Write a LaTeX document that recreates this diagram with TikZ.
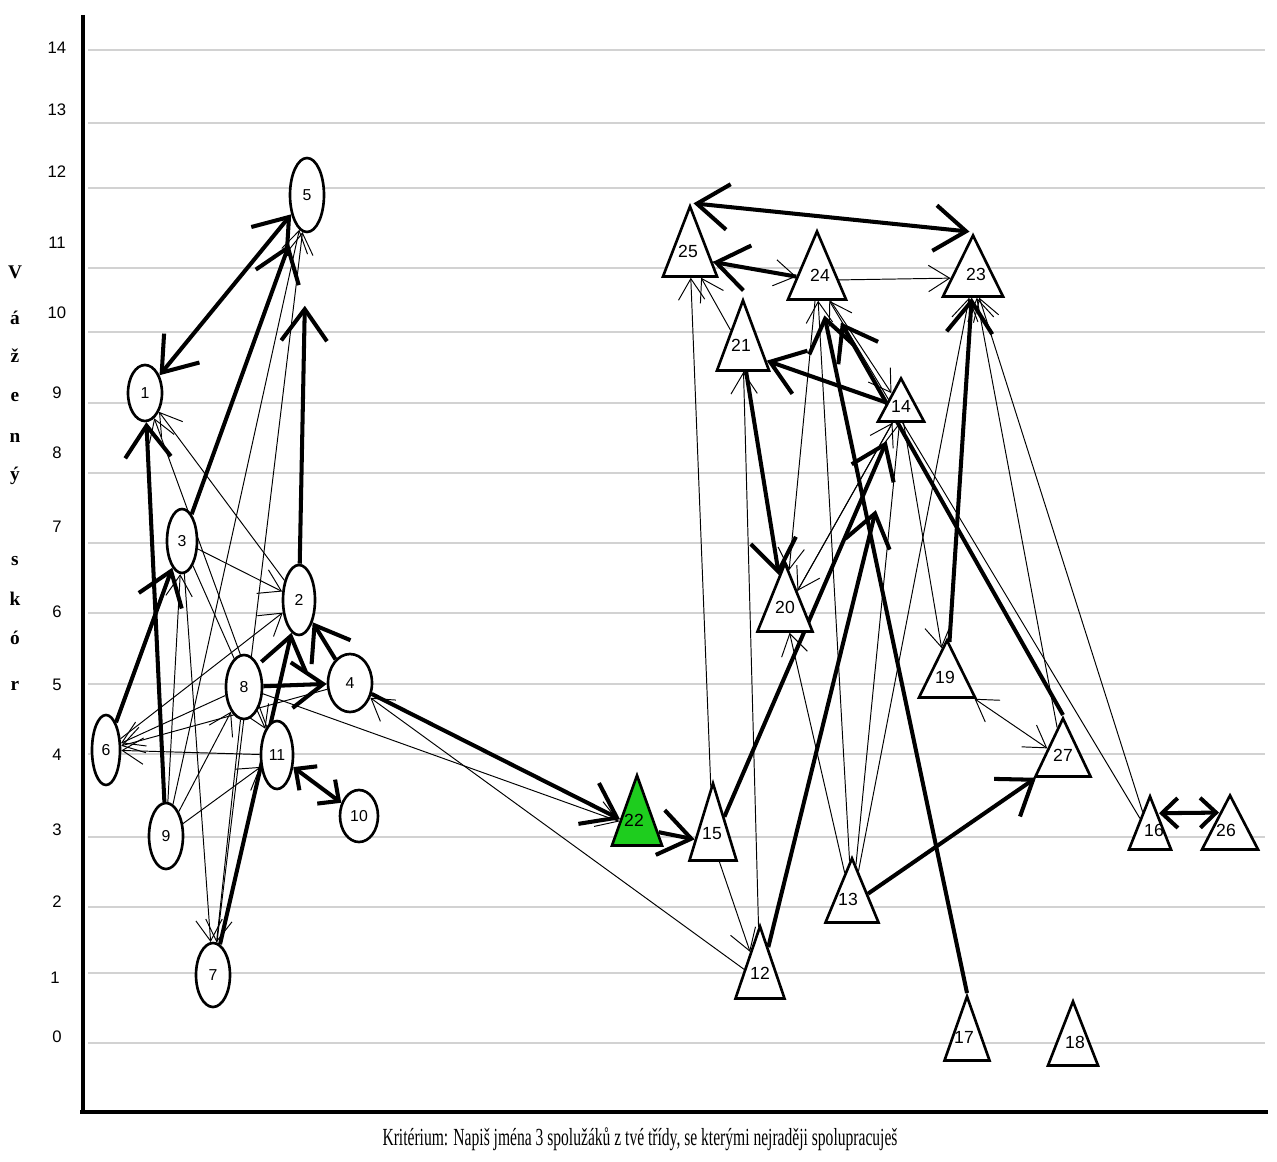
\documentclass[tikz,border=0pt]{standalone}
\usepackage{fontspec}
\setmainfont{Liberation Serif}
\newfontfamily\numfont{Liberation Sans}
\usetikzlibrary{shapes.geometric,arrows.meta,calc}
\pgfdeclarelayer{gridlayer}
\pgfdeclarelayer{edgelayer}
\pgfsetlayers{gridlayer,edgelayer,main}
\definecolor{gridgray}{RGB}{210,210,210}
\definecolor{starg}{RGB}{30,205,30}
\begin{document}
\begin{tikzpicture}[x=0.02cm,y=-0.02cm,
  gridln/.style={draw=gridgray, line width=1.1pt},
  axisln/.style={line width=1.8pt},
  axnum/.style={font=\numfont\fontsize{9.5}{10}\selectfont, inner sep=0pt},
  axlet/.style={font=\bfseries\fontsize{11}{12}\selectfont, inner sep=0pt},
  stud/.style={ellipse, draw, line width=1.5pt, inner sep=0pt, fill=white,
    font=\numfont\fontsize{9}{10}\selectfont},
  tri/.style={isosceles triangle, isosceles triangle stretches, shape border rotate=90,
    draw, line width=1.5pt, inner sep=0pt, fill=white, anchor=apex},
  trilab/.style={inner sep=0pt, font=\numfont\fontsize{10}{11}\selectfont},
  thk/.style={line width=2.3pt, -{Straight Barb[length=18pt,width=26pt]}},
  thkb/.style={line width=2.3pt, {Straight Barb[length=18pt,width=26pt]}-{Straight Barb[length=18pt,width=26pt]}},
  thks/.style={line width=2.3pt, {Straight Barb[length=9pt,width=17pt]}-{Straight Barb[length=9pt,width=17pt]}},
  thn/.style={line width=0.55pt, -{Straight Barb[length=12pt,width=15pt]}},
  thnb/.style={line width=0.55pt, {Straight Barb[length=12pt,width=15pt]}-{Straight Barb[length=12pt,width=15pt]}},
]
\useasboundingbox (0,0) rectangle (1277,1162);

% ---------- grid ----------
\begin{pgfonlayer}{gridlayer}
\foreach \yy in {50,123,188,268,332,403,473,543,613,684,754,837,907,973,1043}
  \draw[gridln] (88,\yy) -- (1265,\yy);
\end{pgfonlayer}

% ---------- axes ----------
\coordinate (axtop) at (83,15);
\coordinate (axorig) at (83,1112);
\coordinate (axleft) at (80,1112);
\coordinate (axright) at (1268,1112);
\draw[axisln] (axtop) -- (axorig);
\draw[line width=2.8pt] (axleft) -- (axright);

% axis numbers
\node[axnum] (t14) at (57,48) {14};
\node[axnum] (t13) at (57,110) {13};
\node[axnum] (t12) at (57,172) {12};
\node[axnum] (t11) at (57,243) {11};
\node[axnum] (t10) at (57,313) {10};
\node[axnum] (t9) at (57,393) {9};
\node[axnum] (t8) at (57,453) {8};
\node[axnum] (t7) at (57,527) {7};
\node[axnum] (t6) at (57,612) {6};
\node[axnum] (t5) at (57,685) {5};
\node[axnum] (t4) at (57,755) {4};
\node[axnum] (t3) at (57,830) {3};
\node[axnum] (t2) at (57,902) {2};
\node[axnum] (t1) at (55,978) {1};
\node[axnum] (t0) at (57,1037) {0};

% axis title letters
\node[axlet] (l1) at (15,272) {V};
\node[axlet] (l2) at (15,318) {á};
\node[axlet] (l3) at (15,356) {ž};
\node[axlet] (l4) at (15,397) {e};
\node[axlet] (l5) at (15,438) {n};
\node[axlet] (l6) at (15,476) {ý};
\node[axlet] (l7) at (15,561) {s};
\node[axlet] (l8) at (15,599) {k};
\node[axlet] (l9) at (15,638) {ó};
\node[axlet] (l10) at (15,686) {r};

% caption
\node[inner sep=0pt] (cap) at (640,1139)
  {\resizebox{10.3cm}{\height}{\fontsize{14}{15}\selectfont Kritérium: Napiš jména 3 spolužáků z tvé třídy, se kterými nejraději spolupracuješ}};

% ---------- circle nodes ----------
\node[stud, minimum width=34*0.02cm, minimum height=56*0.02cm] (n1) at (145,393) {1};
\node[stud, minimum width=34*0.02cm, minimum height=74*0.02cm] (n5) at (307,195) {5};
\node[stud, minimum width=30*0.02cm, minimum height=64*0.02cm] (n3) at (182,541) {3};
\node[stud, minimum width=32*0.02cm, minimum height=70*0.02cm] (n2) at (299,600) {2};
\node[stud, minimum width=36*0.02cm, minimum height=64*0.02cm] (n8) at (244,687) {8};
\node[stud, minimum width=44*0.02cm, minimum height=58*0.02cm] (n4) at (350,683) {4};
\node[stud, minimum width=28*0.02cm, minimum height=70*0.02cm] (n6) at (106,750) {6};
\node[stud, minimum width=32*0.02cm, minimum height=68*0.02cm] (n11) at (277,755) {11};
\node[stud, minimum width=34*0.02cm, minimum height=66*0.02cm] (n9) at (166,836) {9};
\node[stud, minimum width=38*0.02cm, minimum height=52*0.02cm] (n10) at (359,816) {10};
\node[stud, minimum width=34*0.02cm, minimum height=64*0.02cm] (n7) at (213,975) {7};

% ---------- triangle nodes ----------
\node[tri, minimum width=54*0.02cm, minimum height=70*0.02cm] (n25) at (690,203) {};
\node[tri, minimum width=58*0.02cm, minimum height=68*0.02cm] (n24) at (817,228) {};
\node[tri, minimum width=60*0.02cm, minimum height=61*0.02cm] (n23) at (973,232) {};
\node[tri, minimum width=52*0.02cm, minimum height=70*0.02cm] (n21) at (743,297) {};
\node[tri, minimum width=46*0.02cm, minimum height=43*0.02cm] (n14) at (901,375) {};
\node[tri, minimum width=55*0.02cm, minimum height=68*0.02cm] (n20) at (785,560) {};
\node[tri, minimum width=56*0.02cm, minimum height=57*0.02cm] (n19) at (947,637) {};
\node[tri, minimum width=50*0.02cm, minimum height=70*0.02cm, fill=starg] (n22) at (637,772) {};
\node[tri, minimum width=47*0.02cm, minimum height=77*0.02cm] (n15) at (713,780) {};
\node[tri, minimum width=49*0.02cm, minimum height=72*0.02cm] (n12) at (760,923) {};
\node[tri, minimum width=53*0.02cm, minimum height=64*0.02cm] (n13) at (852,855) {};
\node[tri, minimum width=45*0.02cm, minimum height=64*0.02cm] (n17) at (967,993) {};
\node[tri, minimum width=55*0.02cm, minimum height=58*0.02cm] (n27) at (1063,715) {};
\node[tri, minimum width=42*0.02cm, minimum height=53*0.02cm] (n16) at (1150,793) {};
\node[tri, minimum width=56*0.02cm, minimum height=54*0.02cm] (n26) at (1230,792) {};
\node[tri, minimum width=50*0.02cm, minimum height=64*0.02cm] (n18) at (1073,998) {};

% triangle labels
\foreach \k/\dx in {25/-2,24/3,23/3,21/-2,14/0,20/0,19/-2,22/-3,15/-1,12/0,13/-4,17/-3,27/0,16/4,26/-4,18/2}
  \node[trilab] (lab\k) at ($(n\k.apex)!0.65!(n\k.lower side)+(\dx,0)$) {\k};

% ---------- connectors ----------
\begin{pgfonlayer}{edgelayer}
% thin, left group
\draw[thn] (n2) -- (n1);
\draw[thn] (n11) -- (n1);
\draw[thn] (n3) -- (n2);
\draw[thn] (n9) -- (n5);
\draw[thn] (n7) -- (n5);
\draw[thn] (n8) -- (n6);
\draw[thn] (n4) -- (n6);
\draw[thn] (n11) -- (n6);
\draw[thn] (n9) -- (n11);
\draw[thn] (n9) -- (n8);
\draw[thn] (n3) -- (n7);
\draw[thn] (n8) -- (n7);
\draw[thn] (n6) -- (n2);
\draw[thn] (n9) -- (n3);
\draw[thn] (n3) -- (n11);
\draw[thn] (n12) -- (n4);
\draw[thn] (n8) -- (n22);
% thin, right group
\draw[thn] (n15) -- (n25);
\draw[thn] (n12) -- (n21);
\draw[thn] (n15) -- (n12);
\draw[thn] (n13) -- (n24);
\draw[thn] (n13) -- (n14);
\draw[thn] (n24) -- (n20);
\draw[thn] (n14) -- (n20);
\draw[thn] (n13) -- (n20);
\draw[thn] (n24) -- (n23);
\draw[thn] (n21) -- (n25);
\draw[thn] (n24) -- (n14);
\draw[thn] (n14) -- (n19);
\draw[thn] (n13) -- (n23);
\draw[thnb] (n19) -- (n27);
\draw[thn] (n16) -- (n23);
\draw[thn] (n16) -- (n24);
\draw[thn] (n27) -- (n23);
\draw[thn] (n20) -- (n14);
\draw[thn] (n25) -- (n24);
% thick, left group
\draw[thkb] (n5) -- (n1);
\draw[thk, shorten >=0.4cm] (n3) -- (n5);
\draw[thk, shorten >=1.45cm] (n2) -- (n5);
\draw[thk] (n9) -- (n1);
\draw[thk] (n6) -- (n3);
\draw[thk] (n7) -- (n2);
\draw[thk] (n4) -- (n2);
\draw[thk] (n8) -- (n4);
\draw[thks] (n11) -- (n10);
\draw[thk] (n4) -- (n22);
% thick, right group
\draw[thk] (n22) -- (n15);
\draw[thkb, shorten <=2pt, shorten >=2pt] (n25.apex) -- (n23.apex);
\draw[thk] (n24) -- (n25);
\draw[thk] (n14) -- (n21);
\draw[thk, shorten >=0.3cm] (n17.apex) -- (n24);
\draw[thk] (n21) -- (n20);
\draw[thk, shorten >=0.4cm] (n15) -- (n14);
\draw[thk, shorten >=1.8cm] (n12) -- (n14);
\draw[thk] (n13) -- (n27);
\draw[thk] (n19) -- (n23);
\draw[thk, shorten >=0.5cm] (n27.apex) -- (n24);
\draw[thks] ($(n16.apex)!0.35!(n16.lower side)+(9,0)$) -- ($(n26.apex)!0.35!(n26.lower side)+(-11,0)$);
\end{pgfonlayer}
\end{tikzpicture}
\end{document}
